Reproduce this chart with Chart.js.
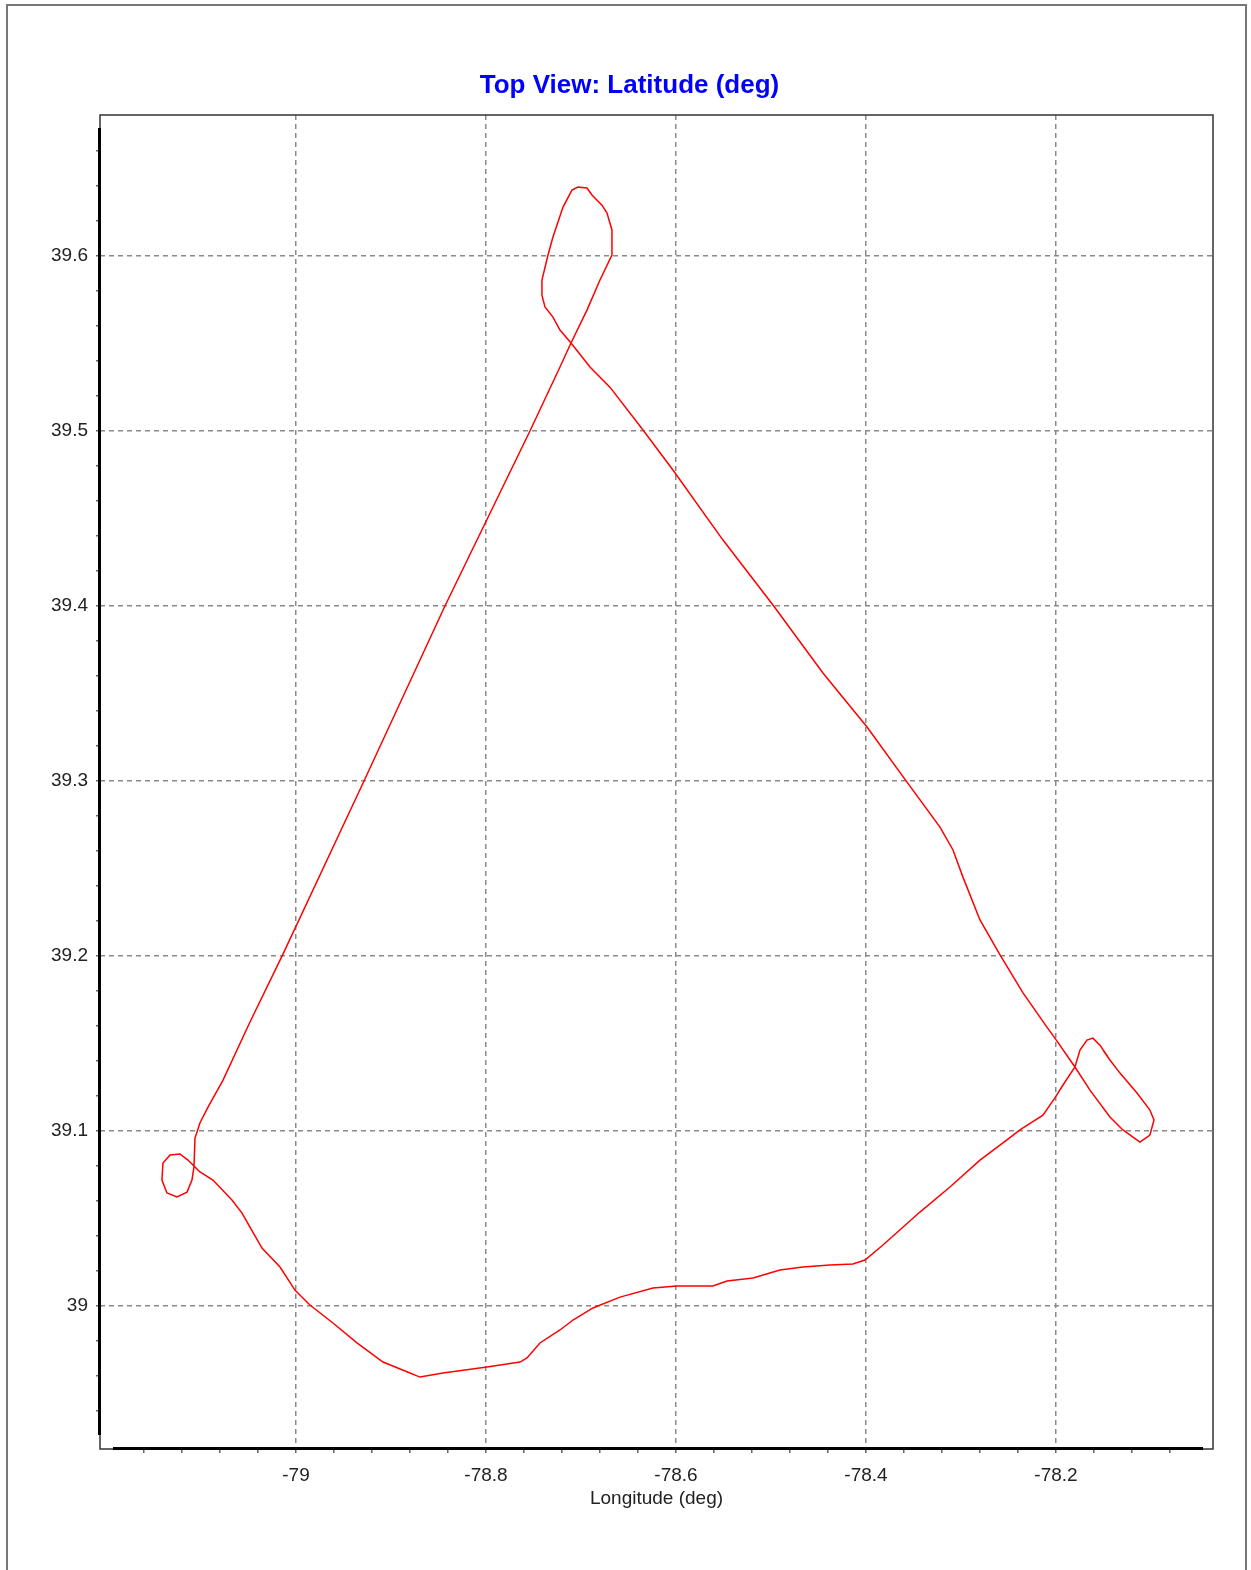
<!DOCTYPE html>
<html>
<head>
<meta charset="utf-8">
<script src="https://cdn.jsdelivr.net/npm/chart.js@4.4.1/dist/chart.umd.min.js"></script>
<style>
  html, body { margin: 0; padding: 0; background: #ffffff; }
  #wrap { width: 1251px; height: 1570px; position: relative; }
</style>
</head>
<body>
<div id="wrap"><canvas id="c" width="1251" height="1570"></canvas></div>
<script>
// ---- Data ----
const chartTitle = 'Top View: Latitude (deg)';
const xAxisTitle = 'Longitude (deg)';

const longitude = [
  -78.1453, -78.1537, -78.1611, -78.1674, -78.1747, -78.1800, -78.1926, -78.2011, -78.2137, -78.2379,
  -78.2516, -78.2800, -78.3116, -78.3432, -78.3821, -78.4011, -78.4137, -78.4379, -78.4663, -78.4905,
  -78.5189, -78.5463, -78.5611, -78.5989, -78.6242, -78.6589, -78.6874, -78.7084, -78.7221, -78.7432,
  -78.7568, -78.7642, -78.7989, -78.8453, -78.8695, -78.8800, -78.9084, -78.9358, -78.9611, -78.9853,
  -79.0011, -79.0168, -79.0358, -79.0484, -79.0568, -79.0674, -79.0874, -79.1011, -79.1063, -79.1137,
  -79.1221, -79.1326, -79.1400, -79.1411, -79.1358, -79.1253, -79.1147, -79.1095, -79.1074, -79.1063,
  -79.1011, -79.0926, -79.0768, -79.0484, -79.0137, -78.9284, -78.8432, -78.7537, -78.7221, -78.7105,
  -78.6937, -78.6800, -78.6674, -78.6674, -78.6726, -78.6779, -78.6884, -78.6937, -78.7032, -78.7095,
  -78.7189, -78.7295, -78.7347, -78.7411, -78.7411, -78.7379, -78.7295, -78.7221, -78.7105, -78.6905,
  -78.6695, -78.6347, -78.6032, -78.5505, -78.4979, -78.4453, -78.3989, -78.3568, -78.3221,
  -78.3084, -78.2979, -78.2800, -78.2589, -78.2347, -78.2095, -78.2011, -78.1800, -78.1642, -78.1432,
  -78.1295, -78.1116, -78.1011, -78.0968, -78.1011, -78.1147, -78.1326, -78.1432, -78.1505
];
const latitude = [
  39.1423, 39.1491, 39.1531, 39.1520, 39.1463, 39.1366, 39.1263, 39.1189, 39.1091, 39.1006,
  39.0949, 39.0834, 39.0680, 39.0537, 39.0349, 39.0263, 39.0240, 39.0234, 39.0223, 39.0206,
  39.0160, 39.0143, 39.0114, 39.0114, 39.0103, 39.0051, 38.9989, 38.9920, 38.9863, 38.9789,
  38.9703, 38.9680, 38.9651, 38.9617, 38.9594, 38.9617, 38.9680, 38.9789, 38.9903, 39.0006,
  39.0091, 39.0223, 39.0331, 39.0451, 39.0531, 39.0606, 39.0720, 39.0766, 39.0794, 39.0834,
  39.0869, 39.0863, 39.0817, 39.0720, 39.0646, 39.0623, 39.0651, 39.0720, 39.0794, 39.0960,
  39.1046, 39.1137, 39.1291, 39.1623, 39.2011, 39.3000, 39.4000, 39.5000, 39.5366, 39.5503,
  39.5691, 39.5863, 39.6006, 39.6149, 39.6246, 39.6291, 39.6349, 39.6389, 39.6394, 39.6377,
  39.6280, 39.6109, 39.6006, 39.5863, 39.5777, 39.5709, 39.5651, 39.5577, 39.5503, 39.5366,
  39.5251, 39.5006, 39.4777, 39.4377, 39.4006, 39.3617, 39.3309, 39.2994, 39.2737,
  39.2606, 39.2451, 39.2206, 39.2006, 39.1789, 39.1594, 39.1531, 39.1366, 39.1234, 39.1080,
  39.1006, 39.0937, 39.0977, 39.1063, 39.1120, 39.1217, 39.1331, 39.1406, 39.1463
];

// axis ranges and tick values
const xRange = [-79.2063, -78.0347];
const yRange = [38.9183, 39.6806];
const xMajorTicks = [-79, -78.8, -78.6, -78.4, -78.2];
const yMajorTicks = [39, 39.1, 39.2, 39.3, 39.4, 39.5, 39.6];
const xMinorStep = 0.04, xMinorFrom = -79.16, xMinorTo = -78.08;
const yMinorStep = 0.02, yMinorFrom = 38.94, yMinorTo = 39.66;

function stepTicks(from, to, step) {
  const out = [];
  const n = Math.round((to - from) / step);
  for (let i = 0; i <= n; i++) out.push(+(from + i * step).toFixed(4));
  return out;
}
const xAllTicks = stepTicks(xMinorFrom, xMinorTo, xMinorStep);
const yAllTicks = stepTicks(yMinorFrom, yMinorTo, yMinorStep);
const isMajor = (v, majors) => majors.some(m => Math.abs(m - v) < 1e-6);

const points = longitude.map((x, i) => ({ x: x, y: latitude[i] }));

const FONT = "'Liberation Sans', Arial, sans-serif";

const framePlugin = {
  id: 'frame',
  beforeDraw(chart) {
    const ctx = chart.ctx;
    ctx.save();
    ctx.fillStyle = '#ffffff';
    ctx.fillRect(0, 0, chart.width, chart.height);
    ctx.strokeStyle = '#777777';
    ctx.lineWidth = 2;
    ctx.strokeRect(7, 5, chart.width - 12, chart.height + 20);
    ctx.restore();
  },
  afterDatasetsDraw(chart) {
    const { left, top, right, bottom } = chart.chartArea;
    const ctx = chart.ctx;
    ctx.save();
    ctx.strokeStyle = '#333333';
    ctx.lineWidth = 1.5;
    ctx.strokeRect(left, top, right - left, bottom - top);
    ctx.strokeStyle = '#000000';
    ctx.lineWidth = 3;
    ctx.beginPath();
    ctx.moveTo(left - 0.5, top + 13);
    ctx.lineTo(left - 0.5, bottom - 14);
    ctx.moveTo(left + 13, bottom - 0.5);
    ctx.lineTo(right - 10, bottom - 0.5);
    ctx.stroke();
    ctx.restore();
  }
};

new Chart(document.getElementById('c'), {
  type: 'scatter',
  data: {
    datasets: [{
      data: points,
      showLine: true,
      borderColor: '#ff0000',
      backgroundColor: '#ff0000',
      borderWidth: 1.5,
      pointRadius: 0,
      tension: 0,
      fill: false
    }]
  },
  options: {
    responsive: false,
    animation: false,
    layout: { padding: { left: 46, right: 38, top: 0, bottom: 0 } },
    plugins: {
      legend: { display: false },
      tooltip: { enabled: false },
      title: {
        display: true,
        text: chartTitle,
        color: '#0000ff',
        font: { family: FONT, size: 26, weight: 'bold', lineHeight: 1.2 },
        padding: { top: 70, bottom: 13.8 }
      }
    },
    scales: {
      x: {
        type: 'linear',
        position: 'bottom',
        min: xRange[0],
        max: xRange[1],
        afterBuildTicks: s => { s.ticks = xAllTicks.map(v => ({ value: v })); },
        afterFit: s => { s.height = 121; },
        ticks: {
          autoSkip: false,
          maxRotation: 0,
          padding: 11,
          color: '#222222',
          font: { family: FONT, size: 19 },
          callback: v => isMajor(v, xMajorTicks) ? String(+v.toFixed(1)) : ''
        },
        grid: {
          color: c => (c.tick && isMajor(c.tick.value, xMajorTicks)) ? '#8a8a8a' : 'rgba(0,0,0,0)',
          lineWidth: 1.5,
          drawTicks: true,
          tickLength: 4,
          tickWidth: 1.5,
          tickColor: '#666666'
        },
        border: { display: false, dash: [5, 4] },
        title: {
          display: true,
          text: xAxisTitle,
          color: '#222222',
          font: { family: FONT, size: 19, lineHeight: 1.2 },
          padding: { top: 0, bottom: 60 }
        }
      },
      y: {
        type: 'linear',
        position: 'left',
        min: yRange[0],
        max: yRange[1],
        afterBuildTicks: s => { s.ticks = yAllTicks.map(v => ({ value: v })); },
        afterFit: s => { s.width = 54; },
        ticks: {
          autoSkip: false,
          padding: 8,
          color: '#222222',
          font: { family: FONT, size: 19 },
          callback: v => isMajor(v, yMajorTicks) ? String(+v.toFixed(1)) : ''
        },
        grid: {
          color: c => (c.tick && isMajor(c.tick.value, yMajorTicks)) ? '#8a8a8a' : 'rgba(0,0,0,0)',
          lineWidth: 1.5,
          drawTicks: true,
          tickLength: 4,
          tickWidth: 1.5,
          tickColor: '#666666'
        },
        border: { display: false, dash: [5, 4] }
      }
    }
  },
  plugins: [framePlugin]
});
</script>
</body>
</html>
